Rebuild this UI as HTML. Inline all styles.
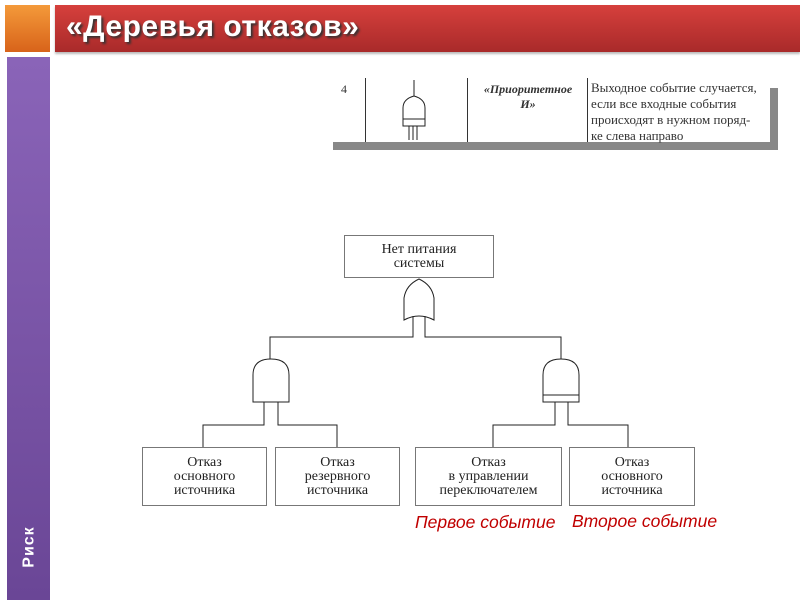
<!DOCTYPE html>
<html><head><meta charset="utf-8"><style>
body{margin:0;width:800px;height:600px;background:#fff;position:relative;overflow:hidden;font-family:"Liberation Sans",sans-serif}
.a{position:absolute}
.box{position:absolute;border:1px solid #777;box-sizing:border-box;font-family:"Liberation Serif",serif;font-size:14px;line-height:14px;text-align:center;color:#222;display:flex;align-items:center;justify-content:center}
</style></head><body>
<div class="a" style="left:5px;top:5px;width:45px;height:47px;background:linear-gradient(#f49a3a,#d8631a)"></div>
<div class="a" style="left:55px;top:5px;width:745px;height:47px;background:linear-gradient(#d6403c,#a92a2a);box-shadow:0 2px 2px #bbb"></div>
<div class="a" style="left:66px;top:10px;color:#fff;font-size:30px;font-weight:bold;text-shadow:2px 2px 2px #333;letter-spacing:0.5px">«Деревья отказов»</div>
<div class="a" style="left:7px;top:57px;width:43px;height:543px;background:linear-gradient(#8a64b8,#6a4696)"></div>
<div class="a" style="left:8px;top:538px;width:43px;color:#fff;font-weight:bold;font-size:16px;transform:rotate(-90deg);text-align:center;letter-spacing:1px">Риск</div>

<div class="a" style="left:770px;top:88px;width:8px;height:62px;background:#888"></div>
<div class="a" style="left:333px;top:142px;width:445px;height:8px;background:#888"></div>
<div class="a" style="left:365px;top:78px;width:1px;height:64px;background:#333"></div>
<div class="a" style="left:467px;top:78px;width:1px;height:64px;background:#333"></div>
<div class="a" style="left:587px;top:78px;width:1px;height:64px;background:#333"></div>
<div class="a" style="left:341px;top:82px;font-family:'Liberation Serif',serif;font-size:12px;color:#333">4</div>
<div class="a" style="left:470px;top:82px;width:116px;text-align:center;font-family:'Liberation Serif',serif;font-size:12px;font-style:italic;font-weight:bold;color:#333;line-height:15px">«Приоритетное<br>И»</div>
<div class="a" style="left:591px;top:80px;font-family:'Liberation Serif',serif;font-size:13px;color:#333;line-height:16px">Выходное событие случается,<br>если все входные события<br>происходят в нужном поряд-<br>ке слева направо</div>

<svg class="a" style="left:0;top:0" width="800" height="600">
<g fill="none" stroke="#222" stroke-width="1">
<path d="M414 80 V96"/>
<path d="M403 126 V108 Q403 99 414 96 Q425 99 425 108 V126 Z"/>
<path d="M403 119 H425"/>
<path d="M409 126 V140 M413 126 V140 M417 126 V140"/>
<path d="M404 320 V298 Q406 285 419 279 Q432 285 434 298 V320 Q419 312 404 320 Z"/>
<path d="M413 316 V337 H270 V359 M425 316 V337 H561 V359"/>
<path d="M253 402 V375 Q253 359 271 359 Q289 359 289 375 V402 Z"/>
<path d="M264 402 V425 H203 V447 M278 402 V425 H337 V447"/>
<path d="M543 402 V375 Q543 359 561 359 Q579 359 579 375 V402 Z"/>
<path d="M543 395 H579"/>
<path d="M555 402 V425 H493 V447 M568 402 V425 H628 V447"/>
</g>
</svg>
<div class="box" style="left:344px;top:235px;width:150px;height:43px">Нет питания<br>системы</div>
<div class="box" style="left:142px;top:447px;width:125px;height:59px">Отказ<br>основного<br>источника</div>
<div class="box" style="left:275px;top:447px;width:125px;height:59px">Отказ<br>резервного<br>источника</div>
<div class="box" style="left:415px;top:447px;width:147px;height:59px">Отказ<br>в управлении<br>переключателем</div>
<div class="box" style="left:569px;top:447px;width:126px;height:59px">Отказ<br>основного<br>источника</div>
<div class="a" style="left:415px;top:512px;color:#c00000;font-style:italic;font-size:17.5px">Первое событие</div>
<div class="a" style="left:572px;top:511px;color:#c00000;font-style:italic;font-size:17.5px">Второе событие</div>
</body></html>
